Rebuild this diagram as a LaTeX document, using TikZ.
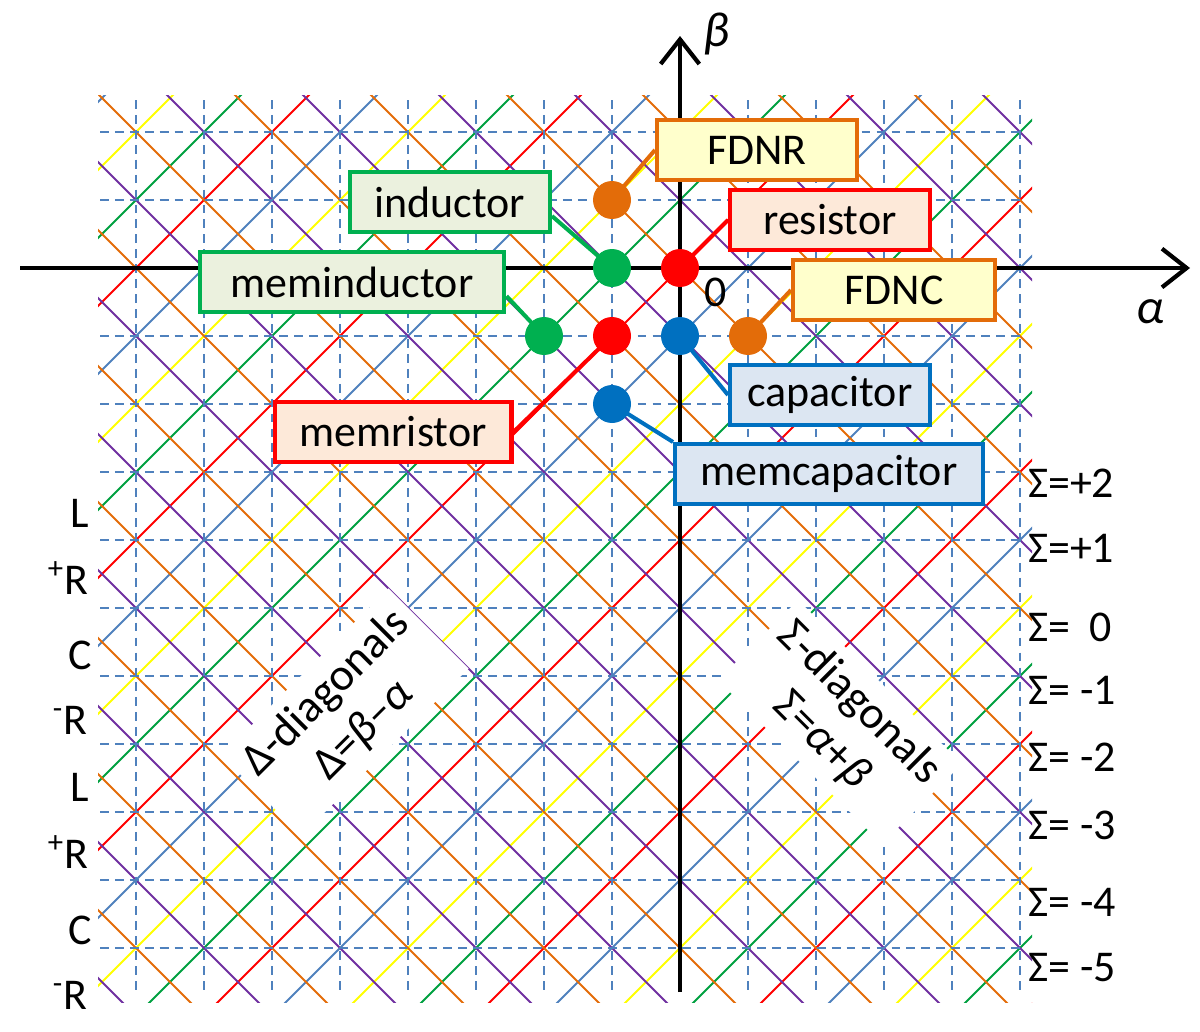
\documentclass[tikz,border=0pt]{standalone}
\usepackage{fontspec}
\setmainfont{Carlito}
\usetikzlibrary{arrows.meta}
\definecolor{dred}{HTML}{FF0000}
\definecolor{dgreen}{HTML}{00A040}
\definecolor{dyellow}{HTML}{FFFF00}
\definecolor{dblue}{HTML}{4F81BD}
\definecolor{dorange}{HTML}{E36C09}
\definecolor{dpurple}{HTML}{7030A0}
\definecolor{gridblue}{HTML}{4F81BD}
\definecolor{bgreen}{HTML}{00B050}
\definecolor{bblue}{HTML}{0070C0}
\definecolor{fyel}{HTML}{FFFFCC}
\definecolor{fgreen}{HTML}{EBF1DE}
\definecolor{fred}{HTML}{FDE9D9}
\definecolor{fblue}{HTML}{DCE6F2}
\tikzset{
  diag/.style={line width=1.1pt},
  gridline/.style={gridblue,dashed,dash pattern=on 5pt off 3.5pt,line width=1.6pt},
  axis/.style={line width=2.4pt,-{Straight Barb[length=14pt,width=22pt,line width=2.4pt]}},
  box/.style={draw=#1,line width=2.3pt,minimum height=1.2cm,inner sep=0pt,font=\fontsize{25}{29}\selectfont},
  dot/.style={circle,fill=#1,minimum size=0.76cm,inner sep=0pt},
  conn/.style={line width=2.3pt,#1},
  lbl/.style={font=\fontsize{25}{29}\selectfont},
  rot/.style={fill=white,align=center,inner sep=6pt,font=\fontsize{26}{30}\selectfont}
}
\begin{document}
\begin{tikzpicture}[x=0.02cm,y=-0.02cm]
\useasboundingbox (0,0) rectangle (1200,1031);
\begin{scope}
\clip (98,95) rectangle (1032,1002);
\foreach \d in {-17,...,12}{
  \pgfmathtruncatemacro\m{mod(\d+40,4)}
  \ifcase\m \def\c{dred}\or\def\c{dgreen}\or\def\c{dyellow}\or\def\c{dblue}\fi
  \draw[diag,draw=\c] ({680-680},{268-68*(-10+\d)}) -- ({680+68*7},{268-68*(7+\d)});
}
\foreach \s in {-21,...,9}{
  \pgfmathtruncatemacro\m{mod(\s+40,2)}
  \ifcase\m \def\c{dorange}\or\def\c{dpurple}\fi
  \draw[diag,draw=\c] ({680-680},{268-68*(\s+10)}) -- ({680+68*7},{268-68*(\s-7)});
}
\end{scope}
\foreach \k in {0,...,12} \draw[gridline] (100,{132+68*\k}) -- (1022,{132+68*\k});
\foreach \k in {0,...,13} \draw[gridline] ({136+68*\k},100) -- ({136+68*\k},992);
% rotated texts
\node[rot,rotate=45] (dtxt) at (345,712) {Δ-diagonals\\ Δ=\textit{β}–\textit{α}};
\node[rot,rotate=-45] (stxt) at (840,722) {Σ-diagonals\\ Σ=\textit{α}+\textit{β}};
% axes
\coordinate (xs) at (20,268); \coordinate (xe) at (1190,268);
\coordinate (ys) at (680,992); \coordinate (ye) at (680,36);
\draw[axis] (xs) -- (xe);
\draw[axis] (ys) -- (ye);
\node[lbl,font=\fontsize{28}{32}\selectfont\itshape] (beta) at (716,34) {β};
\node[lbl,font=\fontsize{28}{32}\selectfont\itshape] (alpha) at (1150,312) {α};
\node[lbl] (zero) at (716,292) {0};
% boxes
\node[box=dorange,fill=fyel,minimum width=4cm] (fdnr) at (757,150) {FDNR};
\node[box=bgreen,fill=fgreen,minimum width=4cm] (ind) at (450,202) {inductor};
\node[box=dred,fill=fred,minimum width=4cm] (res) at (830,220) {resistor};
\node[box=bgreen,fill=fgreen,minimum width=6.1cm] (mind) at (352,282) {meminductor};
\node[box=dorange,fill=fyel,minimum width=4.04cm] (fdnc) at (894,290) {FDNC};
\node[box=bblue,fill=fblue,minimum width=4cm] (cap) at (830,395) {capacitor};
\node[box=dred,fill=fred,minimum width=4.74cm] (memr) at (393,432) {memristor};
\node[box=bblue,fill=fblue,minimum width=6.16cm] (memc) at (829,474) {memcapacitor};
% dots
\node[dot=dorange] (dfdnr) at (612,200) {};
\node[dot=bgreen] (dind) at (612,268) {};
\node[dot=dred] (dres) at (680,268) {};
\node[dot=bgreen] (dmind) at (544,336) {};
\node[dot=dred] (dmemr) at (612,336) {};
\node[dot=bblue] (dcap) at (680,336) {};
\node[dot=dorange] (dfdnc) at (748,336) {};
\node[dot=bblue] (dmemc) at (612,404) {};
% connectors
\draw[conn=dorange] (dfdnr.center) -- (fdnr.west);
\draw[conn=bgreen] (dind.center) -- ([yshift=-8]ind.east);
\draw[conn=dred] (dres.center) -- (res.west);
\draw[conn=bgreen] (dmind.center) -- ([yshift=-8]mind.east);
\draw[conn=dorange] (dfdnc.center) -- (fdnc.west);
\draw[conn=bblue] (dcap.center) -- (cap.west);
\draw[conn=dred] (dmemr.center) -- (memr.east);
\draw[conn=bblue] (dmemc.center) -- (memc.north west);
% left labels
\node[lbl] (l1) at (80,513) {L};
\node[lbl] (r1) at (68,578) {\textsuperscript{+}R};
\node[lbl] (c1) at (80,655) {C};
\node[lbl] (m1) at (70,720) {\textsuperscript{-}R};
\node[lbl] (l2) at (80,787) {L};
\node[lbl] (r2) at (68,852) {\textsuperscript{+}R};
\node[lbl] (c2) at (80,930) {C};
\node[lbl] (m2) at (70,995) {\textsuperscript{-}R};
% right labels
\foreach \t/\yy [count=\i] in {+2/483,+1/548,{\ \ 0}/627,{ -1}/690,{ -2}/757,{ -3}/825,{ -4}/902,{ -5}/968}
  \node[lbl,anchor=west,inner sep=1pt] (s\i) at (1026,\yy) {Σ=\t};
\end{tikzpicture}
\end{document}
